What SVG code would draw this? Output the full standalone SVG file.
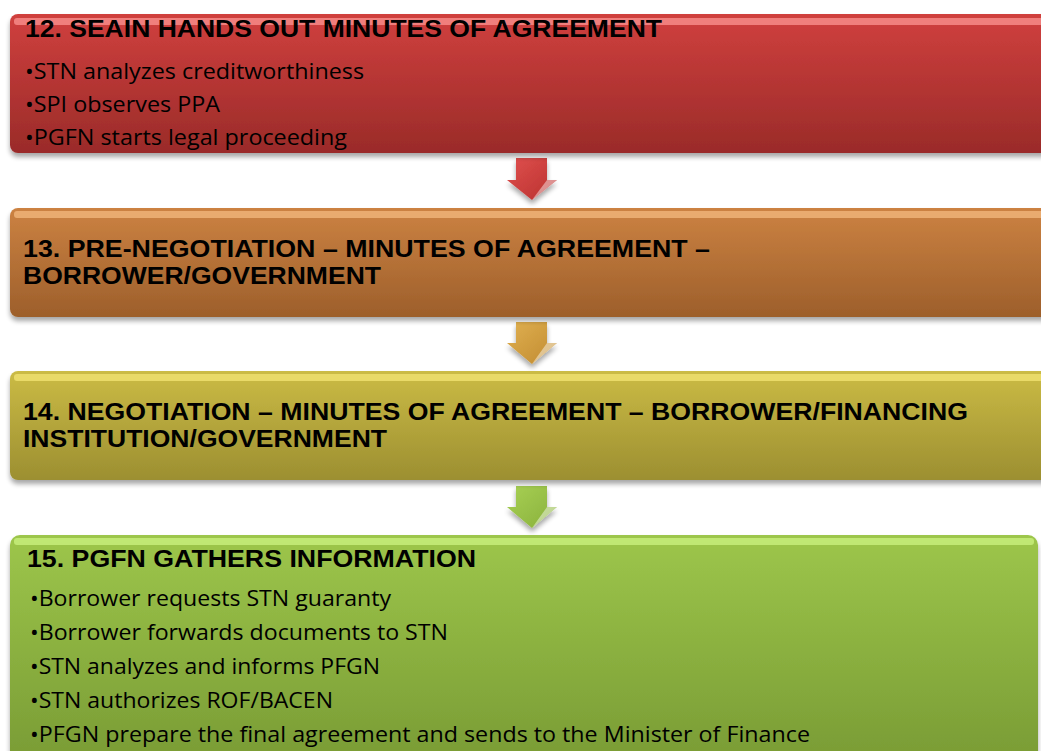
<svg xmlns="http://www.w3.org/2000/svg" width="1041" height="751" viewBox="0 0 1041 751">
<defs>
<linearGradient id="gRed" x1="0" y1="0" x2="0" y2="1">
<stop offset="0" stop-color="#d0403e"/><stop offset="1" stop-color="#9a2b29"/></linearGradient>
<linearGradient id="gOrange" x1="0" y1="0" x2="0" y2="1">
<stop offset="0" stop-color="#cc8242"/><stop offset="1" stop-color="#9d5f2b"/></linearGradient>
<linearGradient id="gOlive" x1="0" y1="0" x2="0" y2="1">
<stop offset="0" stop-color="#cbbb45"/><stop offset="1" stop-color="#9c8f31"/></linearGradient>
<linearGradient id="gGreen" x1="0" y1="0" x2="0" y2="1">
<stop offset="0" stop-color="#9dc64b"/><stop offset="1" stop-color="#789a34"/></linearGradient>
<linearGradient id="aRed" x1="0" y1="0" x2="1" y2="1">
<stop offset="0" stop-color="#e0504e"/><stop offset="1" stop-color="#b8302e"/></linearGradient>
<linearGradient id="aOrange" x1="0" y1="0" x2="1" y2="1">
<stop offset="0" stop-color="#e0b050"/><stop offset="1" stop-color="#c08a30"/></linearGradient>
<linearGradient id="aGreen" x1="0" y1="0" x2="1" y2="1">
<stop offset="0" stop-color="#a8d055"/><stop offset="1" stop-color="#88b03a"/></linearGradient>
<filter id="sh" x="-5%" y="-10%" width="110%" height="130%">
<feGaussianBlur in="SourceAlpha" stdDeviation="2.5"/>
<feOffset dx="0" dy="4" result="b"/>
<feComponentTransfer><feFuncA type="linear" slope="0.35"/></feComponentTransfer>
<feMerge><feMergeNode/><feMergeNode in="SourceGraphic"/></feMerge>
</filter>
</defs>
<style>
.t{font-family:"Liberation Sans",Arial,sans-serif;font-weight:bold;font-size:24px;fill:#000}
.b{font-family:"Open Sans","Liberation Sans",sans-serif;font-size:22px;fill:#000}
.bev{fill:#ffffff;opacity:0.45}
</style>
<rect width="1041" height="751" fill="#ffffff"/>

<g id="connectors">
<g filter="url(#sh)">
<polygon points="516,158 547,158 547,180 557,180 532,200 507,180 516,180" fill="url(#aRed)"/>
<polygon points="547,180 557,180 532,200" class="bev"/>
</g>
<g filter="url(#sh)">
<polygon points="516,322 547,322 547,343 557,343 532,364 507,343 516,343" fill="url(#aOrange)"/>
<polygon points="547,343 557,343 532,364" class="bev"/>
</g>
<g filter="url(#sh)">
<polygon points="516,486 547,486 547,507 557,507 532,528 507,507 516,507" fill="url(#aGreen)"/>
<polygon points="547,507 557,507 532,528" class="bev"/>
</g>
</g>

<g id="node12">
<rect x="10" y="14" width="1050" height="139" rx="8" fill="url(#gRed)" filter="url(#sh)"/>
<rect x="14" y="18" width="1040" height="7" rx="3" fill="#ff9a98" opacity="0.7"/>
<text class="t" x="25" y="37" textLength="637" lengthAdjust="spacingAndGlyphs">12. SEAIN HANDS OUT MINUTES OF AGREEMENT</text>
<text class="b" x="25" y="79" textLength="339" lengthAdjust="spacingAndGlyphs">•STN analyzes creditworthiness</text>
<text class="b" x="25" y="112" textLength="195" lengthAdjust="spacingAndGlyphs">•SPI observes PPA</text>
<text class="b" x="25" y="145" textLength="322" lengthAdjust="spacingAndGlyphs">•PGFN starts legal proceeding</text>
</g>

<g id="node13">
<rect x="10" y="208" width="1050" height="109" rx="8" fill="url(#gOrange)" filter="url(#sh)"/>
<rect x="14" y="211" width="1040" height="7" rx="3" fill="#ffc890" opacity="0.6"/>
<text class="t" x="23" y="257" textLength="687" lengthAdjust="spacingAndGlyphs">13. PRE-NEGOTIATION – MINUTES OF AGREEMENT –</text>
<text class="t" x="23" y="284" textLength="358" lengthAdjust="spacingAndGlyphs">BORROWER/GOVERNMENT</text>
</g>

<g id="node14">
<rect x="10" y="371" width="1050" height="109" rx="8" fill="url(#gOlive)" filter="url(#sh)"/>
<rect x="14" y="374" width="1040" height="7" rx="3" fill="#fff080" opacity="0.6"/>
<text class="t" x="23" y="420" textLength="945" lengthAdjust="spacingAndGlyphs">14. NEGOTIATION – MINUTES OF AGREEMENT – BORROWER/FINANCING</text>
<text class="t" x="23" y="447" textLength="364" lengthAdjust="spacingAndGlyphs">INSTITUTION/GOVERNMENT</text>
</g>

<g id="node15">
<rect x="10" y="535" width="1028" height="235" rx="10" fill="url(#gGreen)" filter="url(#sh)"/>
<rect x="14" y="538" width="1020" height="7" rx="3" fill="#d8ff90" opacity="0.6"/>
<text class="t" x="27" y="567" textLength="449" lengthAdjust="spacingAndGlyphs">15. PGFN GATHERS INFORMATION</text>
<text class="b" x="30" y="606" textLength="361" lengthAdjust="spacingAndGlyphs">•Borrower requests STN guaranty</text>
<text class="b" x="30" y="640" textLength="418" lengthAdjust="spacingAndGlyphs">•Borrower forwards documents to STN</text>
<text class="b" x="30" y="674" textLength="350" lengthAdjust="spacingAndGlyphs">•STN analyzes and informs PFGN</text>
<text class="b" x="30" y="708" textLength="303" lengthAdjust="spacingAndGlyphs">•STN authorizes ROF/BACEN</text>
<text class="b" x="30" y="742" textLength="780" lengthAdjust="spacingAndGlyphs">•PFGN prepare the final agreement and sends to the Minister of Finance</text>
</g>
</svg>
